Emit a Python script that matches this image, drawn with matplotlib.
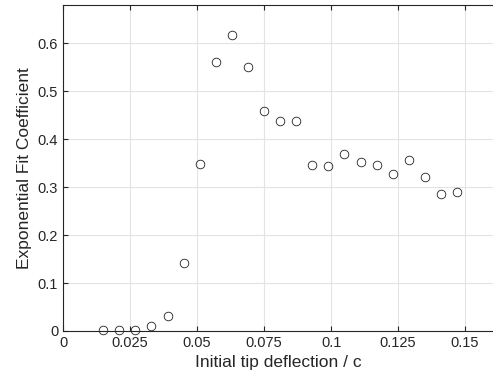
import matplotlib
matplotlib.use("Agg")
from matplotlib import pyplot as plt

plt.rcParams['font.family'] = ['Liberation Sans', 'DejaVu Sans']

# initial tip deflection / c
deflection = [0.015, 0.021, 0.027, 0.033, 0.039, 0.045, 0.051, 0.057, 0.063,
              0.069, 0.075, 0.081, 0.087, 0.093, 0.099, 0.105, 0.111, 0.117,
              0.123, 0.129, 0.135, 0.141, 0.147]
# exponential fit coefficient
coefficient = [0.003, 0.003, 0.003, 0.011, 0.031, 0.142, 0.349, 0.561, 0.617,
               0.551, 0.458, 0.438, 0.437, 0.346, 0.344, 0.369, 0.353, 0.346,
               0.328, 0.356, 0.321, 0.285, 0.290]

x_ticks = [0, 0.025, 0.05, 0.075, 0.1, 0.125, 0.15]
x_tick_labels = ['0', '0.025', '0.05', '0.075', '0.1', '0.125', '0.15']
y_ticks = [0, 0.1, 0.2, 0.3, 0.4, 0.5, 0.6]
y_tick_labels = ['0', '0.1', '0.2', '0.3', '0.4', '0.5', '0.6']

fig = plt.figure(figsize=(4.93, 3.83), dpi=100)
# the box runs right up to the edge of the picture, right side is cut off
ax = fig.add_axes([63 / 493, 52 / 383, 430 / 493, 326 / 383])

ax.plot(deflection, coefficient, linestyle='none', marker='o', markersize=6.2,
        markerfacecolor='none', markeredgecolor='#222222', markeredgewidth=0.6,
        clip_on=False)

ax.set_xlim(0, 0.1604)
ax.set_ylim(0, 0.68)
ax.set_xticks(x_ticks)
ax.set_xticklabels(x_tick_labels)
ax.set_yticks(y_ticks)
ax.set_yticklabels(y_tick_labels)

ax.grid(True, color='#e3e3e3', linewidth=0.8)
ax.set_axisbelow(True)
for spine in ax.spines.values():
    spine.set_color('#262626')
    spine.set_linewidth(0.8)
ax.spines['right'].set_visible(False)
ax.tick_params(direction='in', top=True, right=False, length=3.6, width=0.8,
               colors='#262626', labelsize=10.5, labelcolor='#262626')

ax.set_xlabel('Initial tip deflection / c', fontsize=12.5, color='#262626')
ax.set_ylabel('Exponential Fit Coefficient', fontsize=12.5, color='#262626')

fig.savefig('out.png', dpi=100)
